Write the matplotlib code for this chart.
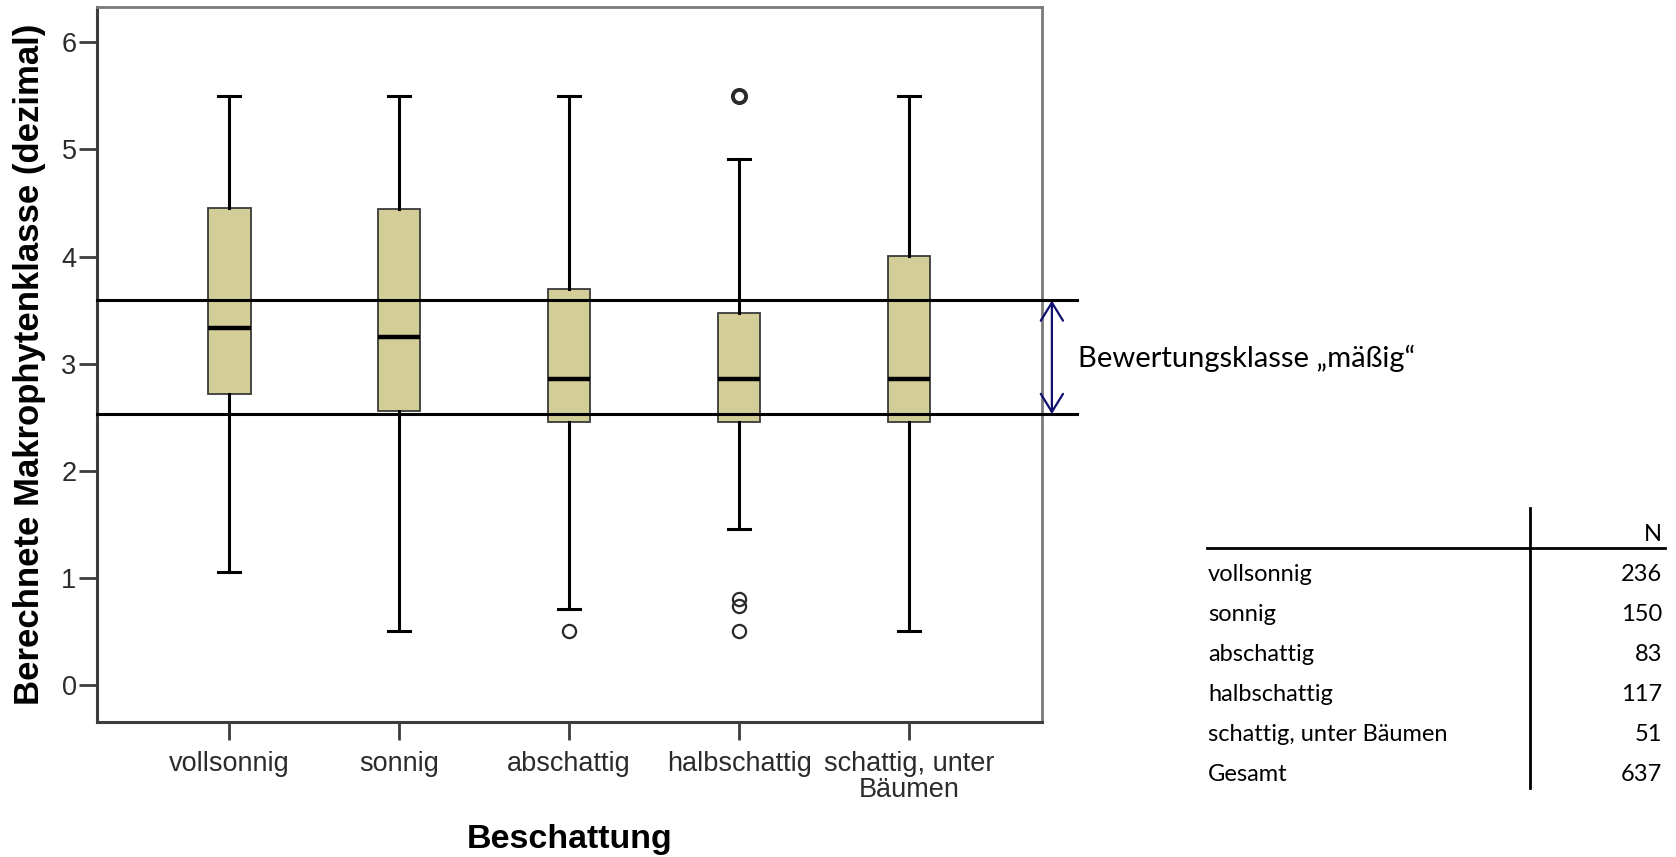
import matplotlib.pyplot as plt
from matplotlib.lines import Line2D

# Shading classes on the x axis and the number of sites in each
categories = ["vollsonnig", "sonnig", "abschattig", "halbschattig", "schattig, unter\nBäumen"]
table_labels = ["vollsonnig", "sonnig", "abschattig", "halbschattig", "schattig, unter Bäumen"]
counts = [236, 150, 83, 117, 51]

# Box statistics of the computed macrophyte class (decimal)
whisker_low = [1.06, 0.50, 0.71, 1.46, 0.50]
q1 = [2.72, 2.56, 2.46, 2.46, 2.46]
medians = [3.33, 3.25, 2.86, 2.86, 2.86]
q3 = [4.45, 4.44, 3.70, 3.47, 4.01]
whisker_high = [5.50, 5.50, 5.50, 4.91, 5.50]
outliers = [[], [], [0.50], [5.50, 5.50, 5.50, 0.80, 0.74, 0.50], []]

# Limits of the assessment class "mäßig"
class_bounds = [2.53, 3.59]
class_label = "Bewertungsklasse „mäßig“"

W, H = 1676, 857
plt.rcParams["font.family"] = ["Liberation Sans", "DejaVu Sans"]

fig = plt.figure(figsize=(W / 100, H / 100), dpi=100)
ax = fig.add_axes([96.7 / W, 1 - 722 / H, (1041.7 - 96.7) / W, (722 - 7) / H])

stats = []
for i in range(len(categories)):
    stats.append(dict(whislo=whisker_low[i], q1=q1[i], med=medians[i],
                      q3=q3[i], whishi=whisker_high[i], fliers=[]))

pos = list(range(len(categories)))
ax.bxp(stats, positions=pos, widths=0.25, capwidths=0.13, patch_artist=True,
       showfliers=False,
       boxprops=dict(facecolor="#D3CE97", edgecolor="#3a3a3a", linewidth=1.3),
       medianprops=dict(color="black", linewidth=3.2),
       whiskerprops=dict(color="black", linewidth=2.2),
       capprops=dict(color="black", linewidth=2.2))

# outliers: repeated values get a heavier ring
for p, vals in zip(pos, outliers):
    for v in sorted(set(vals)):
        n = vals.count(v)
        ax.plot(p, v, marker="o", ms=9.5, mfc="none", mec="#2a2a2a",
                mew=1.6 if n == 1 else 2.8, linestyle="none", zorder=4)

ax.set_xlim(-0.78, 4.78)
ax.set_ylim(-0.345, 6.33)
ax.set_xticks(pos)
ax.set_xticklabels(categories, linespacing=1.0)
ax.set_yticks(range(0, 7))

for side in ["left", "bottom"]:
    ax.spines[side].set_color("#3c3c3c")
    ax.spines[side].set_linewidth(2.2)
for side in ["top", "right"]:
    ax.spines[side].set_color("#7a7a7a")
    ax.spines[side].set_linewidth(2.0)

ax.tick_params(axis="both", length=13, width=2, color="#3c3c3c",
               labelsize=19.5, labelcolor="#2b2b2b")
ax.tick_params(axis="x", pad=8)
ax.tick_params(axis="y", pad=1.5)

ax.set_ylabel("Berechnete Makrophytenklasse (dezimal)", fontsize=25, fontweight="bold")
ax.yaxis.set_label_coords(-0.054, 0.5)
ax.set_xlabel("Beschattung", fontsize=24.5, fontweight="bold", va="baseline")
ax.xaxis.set_label_coords(0.5, -(848 - 722) / 715)

# class limits reaching a bit past the frame, with a double arrow
for yv in class_bounds:
    ax.plot([-0.78, 4.99], [yv, yv], color="black", lw=2.2, clip_on=False, zorder=5)

ax.annotate("", xy=(4.84, class_bounds[1]), xytext=(4.84, class_bounds[0]),
            arrowprops=dict(arrowstyle="<->,head_length=0.65,head_width=0.4",
                            color="#10106e", lw=1.6, mutation_scale=20,
                            shrinkA=0, shrinkB=0),
            annotation_clip=False)
ax.text(4.995, 2.966, class_label, fontsize=21, family="Lato", va="baseline",
        ha="left", clip_on=False)


# small N table on the right
def fx(x):
    return x / W


def fy(y):
    return 1 - y / H


tfont = dict(family="Lato", fontsize=17, color="black", va="baseline")
fig.text(fx(1662), fy(540.7), "N", ha="right", **tfont)
rows = table_labels + ["Gesamt"]
vals = counts + [sum(counts)]
for i, (lab, n) in enumerate(zip(rows, vals)):
    yb = 580.7 + 40 * i
    fig.text(fx(1208), fy(yb), lab, ha="left", **tfont)
    fig.text(fx(1662), fy(yb), str(n), ha="right", **tfont)

fig.add_artist(Line2D([fx(1207), fx(1665)], [fy(548), fy(548)],
                      transform=fig.transFigure, color="black", lw=2))
fig.add_artist(Line2D([fx(1530), fx(1530)], [fy(508), fy(788)],
                      transform=fig.transFigure, color="black", lw=2))

fig.savefig("out.png", dpi=100)
